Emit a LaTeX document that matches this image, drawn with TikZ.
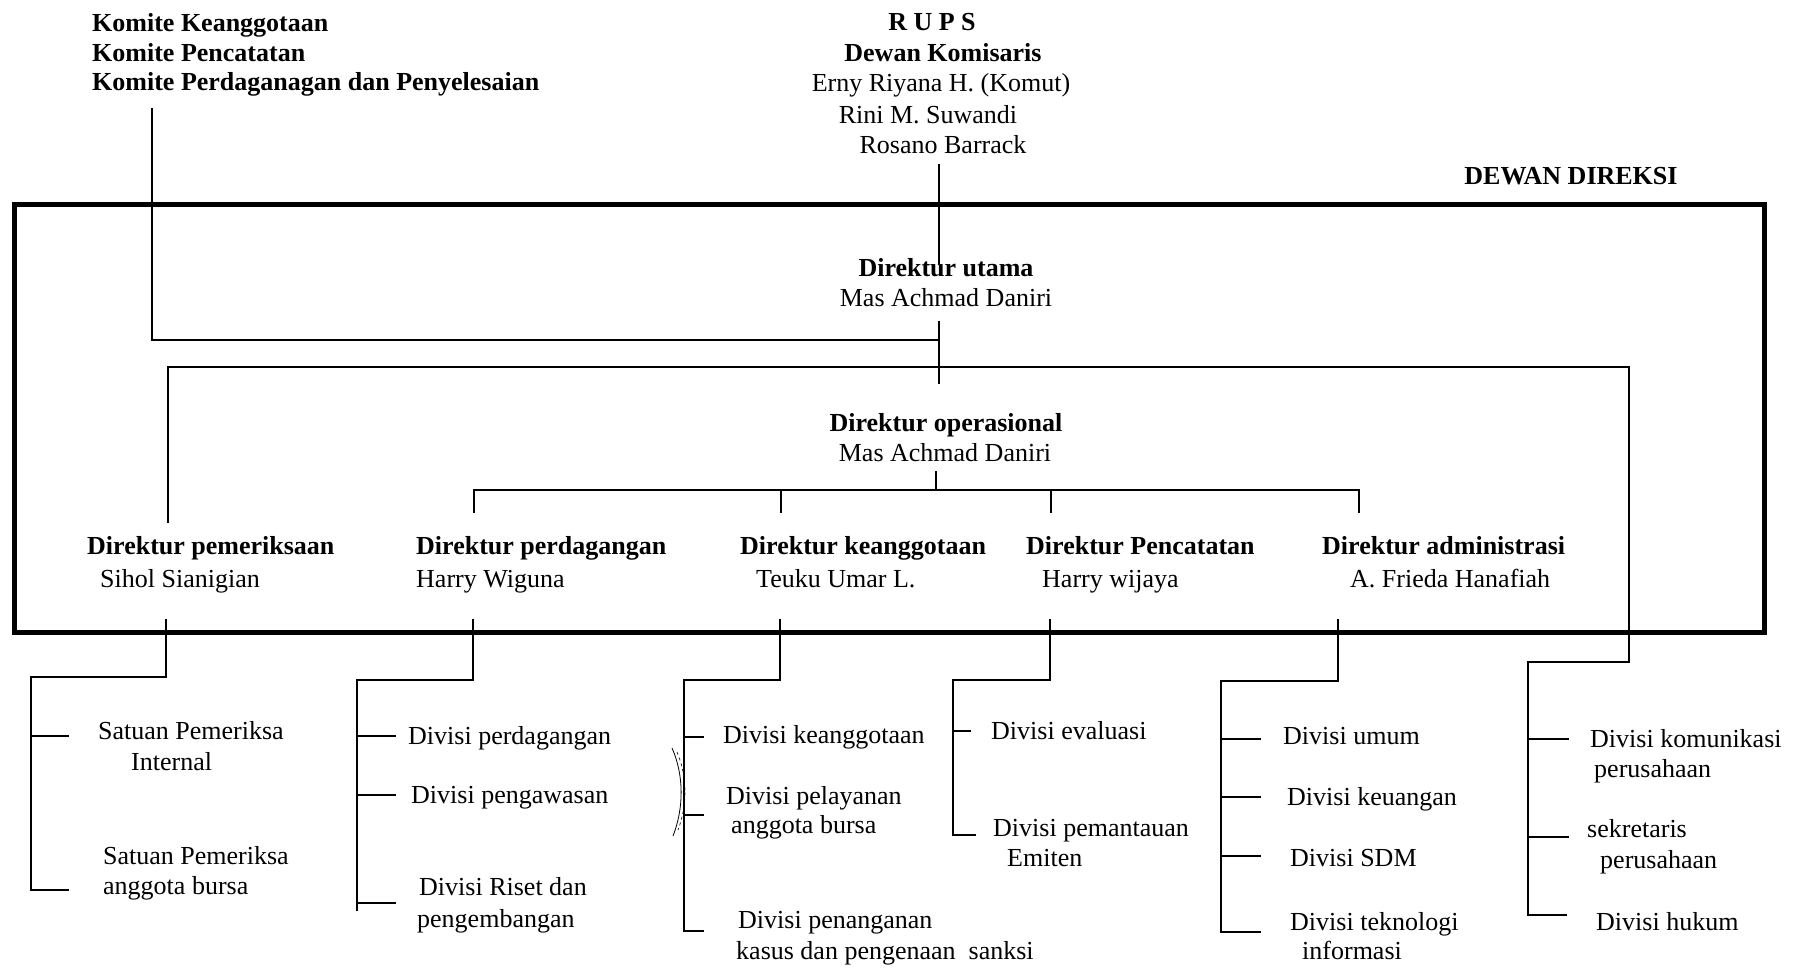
\documentclass[tikz,border=0pt]{standalone}
\usepackage{fontspec}
\setmainfont{Liberation Serif}
\begin{document}
\begin{tikzpicture}[x=1pt,y=-1pt,
  every node/.style={inner sep=0pt,font=\fontsize{26}{30}\selectfont},
  lbl/.style={anchor=base west},
  blbl/.style={anchor=base west,font=\fontsize{26}{30}\selectfont\bfseries},
  ctr/.style={anchor=base},
  bctr/.style={anchor=base,font=\fontsize{26}{30}\selectfont\bfseries},
  conn/.style={line width=1.5pt,line cap=rect},
  frame/.style={line width=5pt,line join=miter}]
\useasboundingbox (0,0) rectangle (1800,967);
\fill[white] (0,0) rectangle (1800,967);

% ---------- top texts ----------
\node[blbl] (k1) at (92,31) {Komite Keanggotaan};
\node[blbl] (k2) at (92,61) {Komite Pencatatan};
\node[blbl] (k3) at (92,90) {Komite Perdaganagan dan Penyelesaian};
\node[bctr] (rups) at (932,30) {R U P S};
\node[bctr] (dk) at (943,61) {Dewan Komisaris};
\node[ctr] (dk1) at (941,91) {Erny Riyana H. (Komut)};
\node[ctr] (dk2) at (928,123) {Rini M. Suwandi};
\node[ctr] (dk3) at (943,153) {Rosano Barrack};
\node[bctr] (dd) at (1571,184) {DEWAN DIREKSI};

% ---------- board frame ----------
\draw[frame] (14,204) rectangle (1764,632);

\node[bctr] (du) at (946,276) {Direktur utama};
\node[ctr] (dun) at (946,306) {Mas Achmad Daniri};
\node[bctr] (dop) at (946,431) {Direktur operasional};
\node[ctr] (dopn) at (945,461) {Mas Achmad Daniri};

\node[blbl] (d1) at (87,554) {Direktur pemeriksaan};
\node[lbl] (d1n) at (100,587) {Sihol Sianigian};
\node[blbl] (d2) at (416,554) {Direktur perdagangan};
\node[lbl] (d2n) at (416,587) {Harry Wiguna};
\node[blbl] (d3) at (740,554) {Direktur keanggotaan};
\node[lbl] (d3n) at (756,587) {Teuku Umar L.};
\node[blbl] (d4) at (1026,554) {Direktur Pencatatan};
\node[lbl] (d4n) at (1042,587) {Harry wijaya};
\node[blbl] (d5) at (1322,554) {Direktur administrasi};
\node[lbl] (d5n) at (1350,587) {A. Frieda Hanafiah};

% ---------- divisions ----------
\node[lbl] (a1) at (98,739) {Satuan Pemeriksa};
\node[lbl] (a1b) at (131,770) {Internal};
\node[lbl] (a2) at (103,864) {Satuan Pemeriksa};
\node[lbl] (a2b) at (103,894) {anggota bursa};

\node[lbl] (b1) at (408,744) {Divisi perdagangan};
\node[lbl] (b2) at (411,803) {Divisi pengawasan};
\node[lbl] (b3) at (419,895) {Divisi Riset dan};
\node[lbl] (b3b) at (417,927) {pengembangan};

\node[lbl] (c1) at (723,743) {Divisi keanggotaan};
\node[lbl] (c2) at (726,804) {Divisi pelayanan};
\node[lbl] (c2b) at (731,833) {anggota bursa};
\node[lbl] (c3) at (738,928) {Divisi penanganan};
\node[lbl] (c3b) at (736,959) {kasus dan pengenaan\ \ sanksi};

\node[lbl] (e1) at (991,739) {Divisi evaluasi};
\node[lbl] (e2) at (993,836) {Divisi pemantauan};
\node[lbl] (e2b) at (1007,866) {Emiten};

\node[lbl] (f1) at (1283,744) {Divisi umum};
\node[lbl] (f2) at (1287,805) {Divisi keuangan};
\node[lbl] (f3) at (1290,866) {Divisi SDM};
\node[lbl] (f4) at (1290,930) {Divisi teknologi};
\node[lbl] (f4b) at (1302,959) {informasi};

\node[lbl] (g1) at (1590,747) {Divisi komunikasi};
\node[lbl] (g1b) at (1594,777) {perusahaan};
\node[lbl] (g2) at (1587,837) {sekretaris};
\node[lbl] (g2b) at (1600,868) {perusahaan};
\node[lbl] (g3) at (1596,930) {Divisi hukum};

% ---------- junction coordinates ----------
\coordinate (kTop) at (152,109);
\coordinate (kBend) at (152,340);
\coordinate (kJoin) at (939,340);
\coordinate (rTop) at (939,165);
\coordinate (rBot) at (939,263);
\coordinate (uTop) at (939,322);
\coordinate (uBot) at (939,383);
\coordinate (hL) at (168,367);
\coordinate (hR) at (1629,367);
\coordinate (pDrop) at (168,522);
\coordinate (sBend) at (1629,662);
\coordinate (sCol) at (1528,662);
\coordinate (sEnd) at (1528,915);

\coordinate (oTop) at (936,472);
\coordinate (oMid) at (936,490);
\coordinate (oL) at (474,490);
\coordinate (oR) at (1359,490);
\coordinate (o2) at (781,490);
\coordinate (o3) at (1051,490);

% ---------- connectors ----------
\draw[conn] (kTop) -- (kBend) -- (kJoin);
\draw[conn] (rTop) -- (rBot);
\draw[conn] (uTop) -- (uBot);
\draw[conn] (pDrop) -- (hL) -- (hR) -- (sBend) -- (sCol) -- (sEnd);
\draw[conn] (1528,739) -- (1568,739);
\draw[conn] (1528,837) -- (1568,837);
\draw[conn] (sEnd) -- (1566,915);

\draw[conn] (oTop) -- (oMid);
\draw[conn] (474,512) -- (oL) -- (oR) -- (1359,512);
\draw[conn] (o2) -- (781,512);
\draw[conn] (o3) -- (1051,512);

% column 1
\draw[conn] (166,620) -- (166,677) -- (31,677) -- (31,890) -- (68,890);
\draw[conn] (31,736) -- (68,736);
% column 2
\draw[conn] (473,620) -- (473,680) -- (357,680) -- (357,910);
\draw[conn] (357,736) -- (395,736);
\draw[conn] (357,795) -- (395,795);
\draw[conn] (357,903) -- (395,903);
% column 3
\draw[conn] (780,620) -- (780,680) -- (684,680) -- (684,931) -- (703,931);
\draw[conn] (684,737) -- (703,737);
\draw[conn] (684,815) -- (703,815);
\draw[line width=0.8pt] (672,748) .. controls (684,775) and (684,808) .. (673,836);
\draw[line width=0.6pt,dashed] (677,752) .. controls (688,778) and (687,806) .. (678,830);
% column 4
\draw[conn] (1050,620) -- (1050,680) -- (953,680) -- (953,835) -- (975,835);
\draw[conn] (953,731) -- (970,731);
% column 5
\draw[conn] (1338,620) -- (1338,681) -- (1221,681) -- (1221,932) -- (1260,932);
\draw[conn] (1221,739) -- (1260,739);
\draw[conn] (1221,797) -- (1260,797);
\draw[conn] (1221,856) -- (1260,856);
\end{tikzpicture}
\end{document}
